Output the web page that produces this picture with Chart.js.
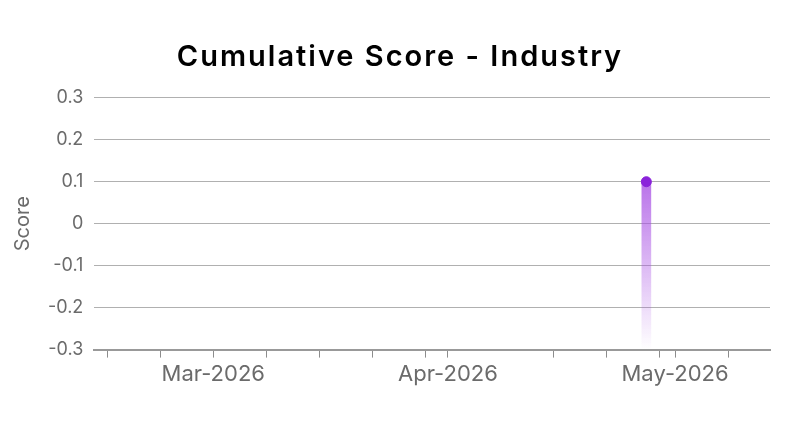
<!DOCTYPE html>
<html>
<head>
<meta charset="utf-8">
<script src="https://cdn.jsdelivr.net/npm/chart.js@4"></script>
<style>
  html, body { margin: 0; background: #fff; }
  #wrap { width: 800px; height: 431px; }
</style>
</head>
<body>
<div id="wrap"><canvas id="myChart"></canvas></div>
<script>
// data
const pointDates = ["2026-04-27T05:00:00Z"];
const scores = [0.1];
const tickDates = [
    "2026-02-15", "2026-02-22", "2026-03-01", "2026-03-08", "2026-03-15",
    "2026-03-22", "2026-03-29", "2026-04-01", "2026-04-15", "2026-04-22",
    "2026-04-29", "2026-05-01", "2026-05-08"
];
const yTicks = [-0.3, -0.2, -0.1, 0, 0.1, 0.2, 0.3];
const monthList = [
    "Jan", "Feb", "Mar", "Apr", "May", "Jun",
    "Jul", "Aug", "Sep", "Oct", "Nov", "Dec"
];

const X_MIN = Date.UTC(2026, 1, 13, 7);
const X_MAX = Date.UTC(2026, 4, 13, 13);
const Y_MIN = yTicks[0];
const Y_MAX = yTicks[yTicks.length - 1];

var points = pointDates.map(function (d, i) {
    return { x: Date.parse(d), y: scores[i] };
});

function barGradient(context) {
    var chart = context.chart;
    var area = chart.chartArea;
    if (!area) return 'rgba(170,90,230,0.6)';
    var top = chart.scales.y.getPixelForValue(Math.max.apply(null, scores));
    var g = chart.ctx.createLinearGradient(0, top, 0, area.bottom);
    g.addColorStop(0, 'rgba(168,80,228,0.8)');
    g.addColorStop(1, 'rgba(168,80,228,0)');
    return g;
}

// centre the title on the whole canvas and space its letters a bit
const centerTitle = {
    id: 'centerTitle',
    afterLayout: function (chart) {
        var tb = chart.titleBlock;
        if (!tb) return;
        tb.left = 0;
        tb.right = chart.width;
        if (!tb._spaced) {
            var orig = tb.draw.bind(tb);
            tb.draw = function (area) {
                var c = chart.ctx;
                c.save();
                c.letterSpacing = '2px';
                orig(area);
                c.restore();
            };
            tb._spaced = true;
        }
    }
};

var ctx = document.getElementById('myChart').getContext('2d');
var chart = new Chart(ctx, {
    type: 'bar',
    data: {
        datasets: [{
            type: 'scatter',
            label: 'Score',
            data: points,
            backgroundColor: '#8a22da',
            borderColor: '#8a22da',
            pointRadius: 5,
            order: 0
        }, {
            type: 'bar',
            label: 'fill',
            data: points,
            base: Y_MIN,
            barThickness: 9,
            backgroundColor: barGradient,
            borderWidth: 0,
            order: 1
        }]
    },
    plugins: [centerTitle],
    options: {
        responsive: true,
        maintainAspectRatio: false,
        animation: false,
        layout: { padding: { left: 8, right: 30, top: 0, bottom: 39 } },
        plugins: {
            legend: { display: false },
            tooltip: { enabled: false },
            title: {
                display: true,
                text: 'Cumulative Score - Industry',
                color: '#000',
                font: { family: 'Inter', size: 29, weight: '600' },
                padding: { top: 40, bottom: 23 }
            }
        },
        scales: {
            x: {
                type: 'linear',
                min: X_MIN,
                max: X_MAX,
                offset: false,
                afterBuildTicks: function (axis) {
                    axis.ticks = tickDates.map(function (d) { return { value: Date.parse(d) }; });
                },
                grid: {
                    drawOnChartArea: false,
                    drawTicks: true,
                    tickLength: 8,
                    color: '#8c8c8c',
                    offset: false
                },
                border: { display: true, color: '#999', width: 2 },
                ticks: {
                    autoSkip: false,
                    maxRotation: 0,
                    padding: 4,
                    color: '#6b6b6b',
                    font: { family: 'Inter', size: 22 },
                    callback: function (value) {
                        var d = new Date(value);
                        if (d.getUTCDate() !== 1) return '';
                        return monthList[d.getUTCMonth()] + '-' + d.getUTCFullYear();
                    }
                }
            },
            y: {
                min: Y_MIN,
                max: Y_MAX,
                afterBuildTicks: function (axis) {
                    axis.ticks = yTicks.map(function (v) { return { value: v }; });
                },
                grid: { color: '#b0b0b0', drawTicks: false },
                border: { display: false },
                title: {
                    display: true,
                    text: 'Score',
                    color: '#6b6b6b',
                    font: { family: 'Inter', size: 20 },
                    padding: { top: 3, bottom: 2 }
                },
                ticks: {
                    padding: 11,
                    color: '#6b6b6b',
                    font: { family: 'Inter', size: 18 },
                    callback: function (value) {
                        return String(Number(value.toFixed(1)));
                    }
                }
            }
        }
    }
});
</script>
</body>
</html>
